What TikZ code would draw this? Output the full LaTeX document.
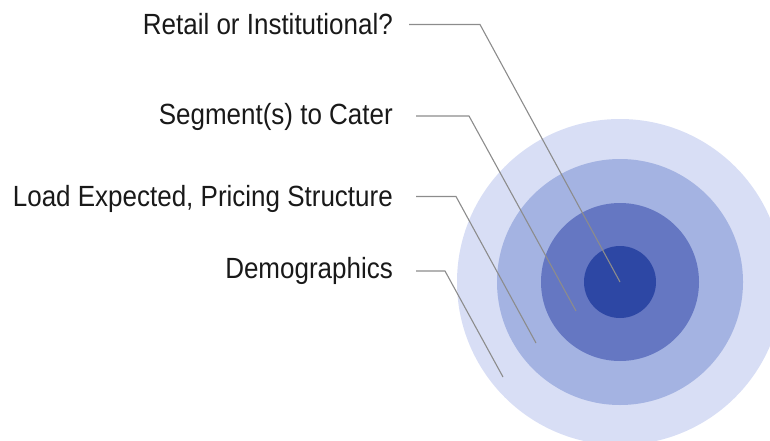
\documentclass[tikz,border=0pt]{standalone}
\usepackage{fontspec}
\setmainfont{Liberation Sans}[FakeStretch=0.89]
\definecolor{ring1}{HTML}{D8DEF5}
\definecolor{ring2}{HTML}{A4B3E2}
\definecolor{ring3}{HTML}{6577C2}
\definecolor{ring4}{HTML}{2D47A4}
\definecolor{leader}{HTML}{8C8C8C}
\tikzset{
  lbl/.style={anchor=base east, inner sep=0pt, font=\fontsize{29.2}{34}\selectfont, text=black!90},
  leaderline/.style={draw=leader, line width=1.1pt},
}
\begin{document}
\begin{tikzpicture}[x=1pt,y=-1pt]
\useasboundingbox (0,0) rectangle (770,441);
\clip (0,0) rectangle (770,441);
\coordinate (c) at (620,282);
\fill[ring1] (c) circle (163pt);
\fill[ring2] (c) circle (123pt);
\fill[ring3] (c) circle (79pt);
\fill[ring4] (c) circle (36pt);
\node[lbl] (l1) at (393,35) {Retail or Institutional?};
\node[lbl] (l2) at (393,124.5) {Segment(s) to Cater};
\node[lbl] (l3) at (393,206.5) {Load Expected, Pricing Structure};
\node[lbl] (l4) at (393,278) {Demographics};
\coordinate (s1) at (409,24.5); \coordinate (k1) at (480,24.5); \coordinate (e1) at (620,282);
\coordinate (s2) at (416,116); \coordinate (k2) at (469,116); \coordinate (e2) at (576,311);
\coordinate (s3) at (416,196.5); \coordinate (k3) at (456,196.5); \coordinate (e3) at (536,343);
\coordinate (s4) at (416,271); \coordinate (k4) at (445,271); \coordinate (e4) at (503,377);
\draw[leaderline] (s1) -- (k1) -- (e1);
\draw[leaderline] (s2) -- (k2) -- (e2);
\draw[leaderline] (s3) -- (k3) -- (e3);
\draw[leaderline] (s4) -- (k4) -- (e4);
\end{tikzpicture}
\end{document}
